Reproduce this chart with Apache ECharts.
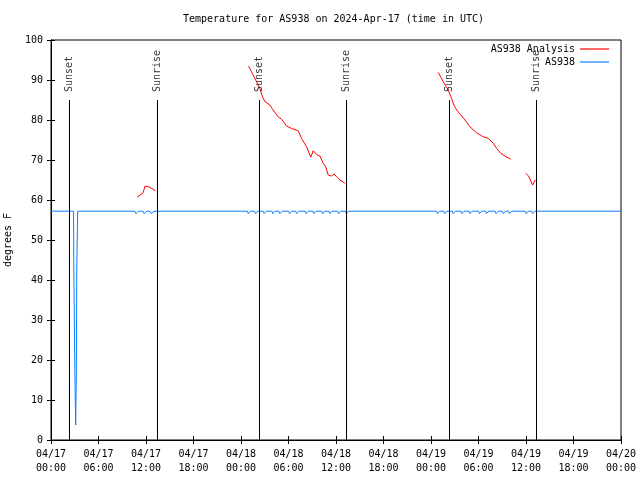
<!DOCTYPE html>
<html>
<head>
<meta charset="utf-8">
<script src="https://cdn.jsdelivr.net/npm/echarts@6/dist/echarts.min.js"></script>
<style>html,body{margin:0;padding:0;background:#fff}#c{width:640px;height:480px}</style>
</head>
<body>
<div id="c"></div>
<script>
// x values are hours since 04/17 00:00 UTC
const xTickLabels = ['04/17\n00:00','04/17\n06:00','04/17\n12:00','04/17\n18:00','04/18\n00:00','04/18\n06:00','04/18\n12:00','04/18\n18:00','04/19\n00:00','04/19\n06:00','04/19\n12:00','04/19\n18:00','04/20\n00:00'];
const sunTimes = [2.28, 13.39, 26.29, 37.33, 50.30, 61.35];
const sunNames = ['Sunset','Sunrise','Sunset','Sunrise','Sunset','Sunrise'];

const analysisData = [
  [10.87,60.7],[11.63,61.8],[11.88,63.5],[12.31,63.3],[12.73,62.9],[13.17,62.3],[13.2,'-'],
  [24.95,93.5],[25.53,91.25],[25.96,89.6],[26.38,87.9],[26.72,85.8],[27.01,84.6],[27.64,83.75],
  [28.06,82.5],[28.69,80.8],[29.12,80.2],[29.75,78.5],[30.38,77.9],[31.22,77.3],[31.65,75.4],
  [32.28,73.3],[32.82,70.7],[33.11,72.3],[33.62,71.25],[33.96,71.0],[34.38,69.2],[34.72,68.2],
  [35.01,66.25],[35.44,66.0],[35.77,66.5],[36.07,65.8],[36.49,65.0],[37.12,64.2],[37.2,'-'],
  [48.91,91.9],[49.54,89.6],[50.17,87.5],[50.6,85.4],[50.89,83.75],[51.24,82.5],[51.87,81.0],
  [52.29,80.0],[52.92,78.3],[53.76,76.8],[54.6,75.8],[55.23,75.4],[55.86,74.2],[56.29,72.9],
  [56.8,71.7],[57.47,70.8],[58.06,70.25],[58.5,'-'],
  [59.95,66.7],[60.33,66.0],[60.84,63.75],[61.17,65.0]
];

const stationData = [
  [0,57.2],
  [2.85,57.2],[2.88,43.75],[2.98,43.75],[3.01,17.3],[3.12,3.75],[3.2,17.3],[3.26,43.75],[3.34,43.75],[3.37,57.2],
  [10.6,57.2],[10.75,56.6],[10.9,56.6],[11.05,57.2],
  [11.6,57.2],[11.75,56.6],[11.95,56.6],[12.1,57.2],
  [12.5,57.2],[12.65,56.6],[12.85,56.6],[13.0,57.2],
  [24.8,57.2],[24.92,56.6],[25.08,56.6],[25.2,57.2],
  [25.7,57.2],[25.82,56.6],[25.98,56.6],[26.1,57.2],
  [26.8,57.2],[26.92,56.6],[27.08,56.6],[27.2,57.2],
  [27.9,57.2],[28.02,56.6],[28.18,56.6],[28.3,57.2],
  [28.8,57.2],[28.92,56.6],[29.08,56.6],[29.2,57.2],
  [30.0,57.2],[30.12,56.6],[30.28,56.6],[30.4,57.2],
  [30.9,57.2],[31.02,56.6],[31.18,56.6],[31.3,57.2],
  [32.1,57.2],[32.22,56.6],[32.38,56.6],[32.5,57.2],
  [33.1,57.2],[33.22,56.6],[33.38,56.6],[33.5,57.2],
  [34.2,57.2],[34.32,56.6],[34.48,56.6],[34.6,57.2],
  [35.1,57.2],[35.22,56.6],[35.38,56.6],[35.5,57.2],
  [36.2,57.2],[36.32,56.6],[36.48,56.6],[36.6,57.2],
  [37.2,57.2],[37.32,56.6],[37.48,56.6],[37.6,57.2],
  [48.7,57.2],[48.82,56.6],[48.98,56.6],[49.1,57.2],
  [49.6,57.2],[49.72,56.6],[49.88,56.6],[50.0,57.2],
  [50.7,57.2],[50.82,56.6],[50.98,56.6],[51.1,57.2],
  [51.8,57.2],[51.92,56.6],[52.08,56.6],[52.2,57.2],
  [52.8,57.2],[52.92,56.6],[53.08,56.6],[53.2,57.2],
  [54.0,57.2],[54.12,56.6],[54.28,56.6],[54.4,57.2],
  [54.9,57.2],[55.02,56.6],[55.18,56.6],[55.3,57.2],
  [56.1,57.2],[56.22,56.6],[56.38,56.6],[56.5,57.2],
  [57.0,57.2],[57.12,56.6],[57.28,56.6],[57.4,57.2],
  [57.8,57.2],[57.92,56.6],[58.08,56.6],[58.2,57.2],
  [59.9,57.2],[60.02,56.6],[60.18,56.6],[60.3,57.2],
  [60.7,57.2],[60.82,56.6],[60.98,56.6],[61.1,57.2],
  [72,57.2]
];

const FONT = 'DejaVu Sans Mono';
const txt = {fontFamily: FONT, fontSize: 10, color: '#000'};

const sunLabelData = sunTimes.map((t, i) => [t, 87, sunNames[i]]);
const sunLines = sunTimes.map(t => [{coord: [t, 0]}, {coord: [t, 85]}]);

const chart = echarts.init(document.getElementById('c'), null, {renderer: 'canvas'});
chart.setOption({
  animation: false,
  backgroundColor: '#fff',
  title: {
    text: 'Temperature for AS938 on 2024-Apr-17 (time in UTC)',
    left: 183, top: 14, padding: 0,
    textStyle: {fontFamily: FONT, fontSize: 10, fontWeight: 'normal', color: '#000'}
  },
  legend: [
    {data: ['AS938 Analysis'], right: 31, top: 44, padding: 0, align: 'right', orient: 'vertical',
     icon: 'rect', itemWidth: 29, itemHeight: 1.2, textStyle: txt, selectedMode: false},
    {data: ['AS938'], right: 31, top: 57, padding: 0, align: 'right', orient: 'vertical',
     icon: 'rect', itemWidth: 29, itemHeight: 1.2, textStyle: txt, selectedMode: false}
  ],
  grid: {left: 51, right: 19, top: 40, bottom: 40, show: true, borderColor: '#000', borderWidth: 1,
         outerBoundsMode: 'none', containLabel: false},
  xAxis: [
    {type: 'value', min: 0, max: 72, interval: 6, position: 'bottom',
     axisLine: {show: true, lineStyle: {color: '#000'}},
     axisTick: {show: true, inside: true, length: 4, lineStyle: {color: '#000'}},
     splitLine: {show: false},
     axisLabel: {...txt, margin: 7, lineHeight: 14, formatter: v => xTickLabels[Math.round(v / 6)]}},
    {type: 'value', min: 0, max: 72, interval: 6, position: 'top',
     axisLine: {show: true, lineStyle: {color: '#000'}},
     axisTick: {show: true, inside: true, length: 4, lineStyle: {color: '#000'}},
     splitLine: {show: false}, axisLabel: {show: false}}
  ],
  yAxis: [
    {type: 'value', min: 0, max: 100, interval: 10, position: 'left',
     name: 'degrees F', nameLocation: 'middle', nameGap: 38, nameRotate: 90, nameTextStyle: txt,
     axisLine: {show: true, lineStyle: {color: '#000'}},
     axisTick: {show: true, inside: true, length: 4, lineStyle: {color: '#000'}},
     splitLine: {show: false},
     axisLabel: {...txt, margin: 8}},
    {type: 'value', min: 0, max: 100, interval: 10, position: 'right',
     axisLine: {show: true, lineStyle: {color: '#000'}},
     axisTick: {show: true, inside: true, length: 4, lineStyle: {color: '#000'}},
     splitLine: {show: false}, axisLabel: {show: false}}
  ],
  series: [
    {name: 'AS938', type: 'line', data: stationData, symbol: 'none', connectNulls: false,
     lineStyle: {color: '#0a7fff', width: 1}, itemStyle: {color: '#0a7fff'}},
    {name: 'AS938 Analysis', type: 'line', data: analysisData, symbol: 'none', connectNulls: false,
     lineStyle: {color: '#ff0000', width: 1}, itemStyle: {color: '#ff0000'}},
    {name: 'sun', type: 'scatter', data: sunLabelData, symbolSize: 0, silent: true, z: 5,
     label: {show: true, position: 'inside', rotate: 90, align: 'left', verticalAlign: 'middle',
             formatter: p => p.value[2], ...txt},
     markLine: {silent: true, symbol: 'none', label: {show: false},
                lineStyle: {color: '#000', width: 1, type: 'solid'}, data: sunLines}}
  ]
});
</script>
</body>
</html>
